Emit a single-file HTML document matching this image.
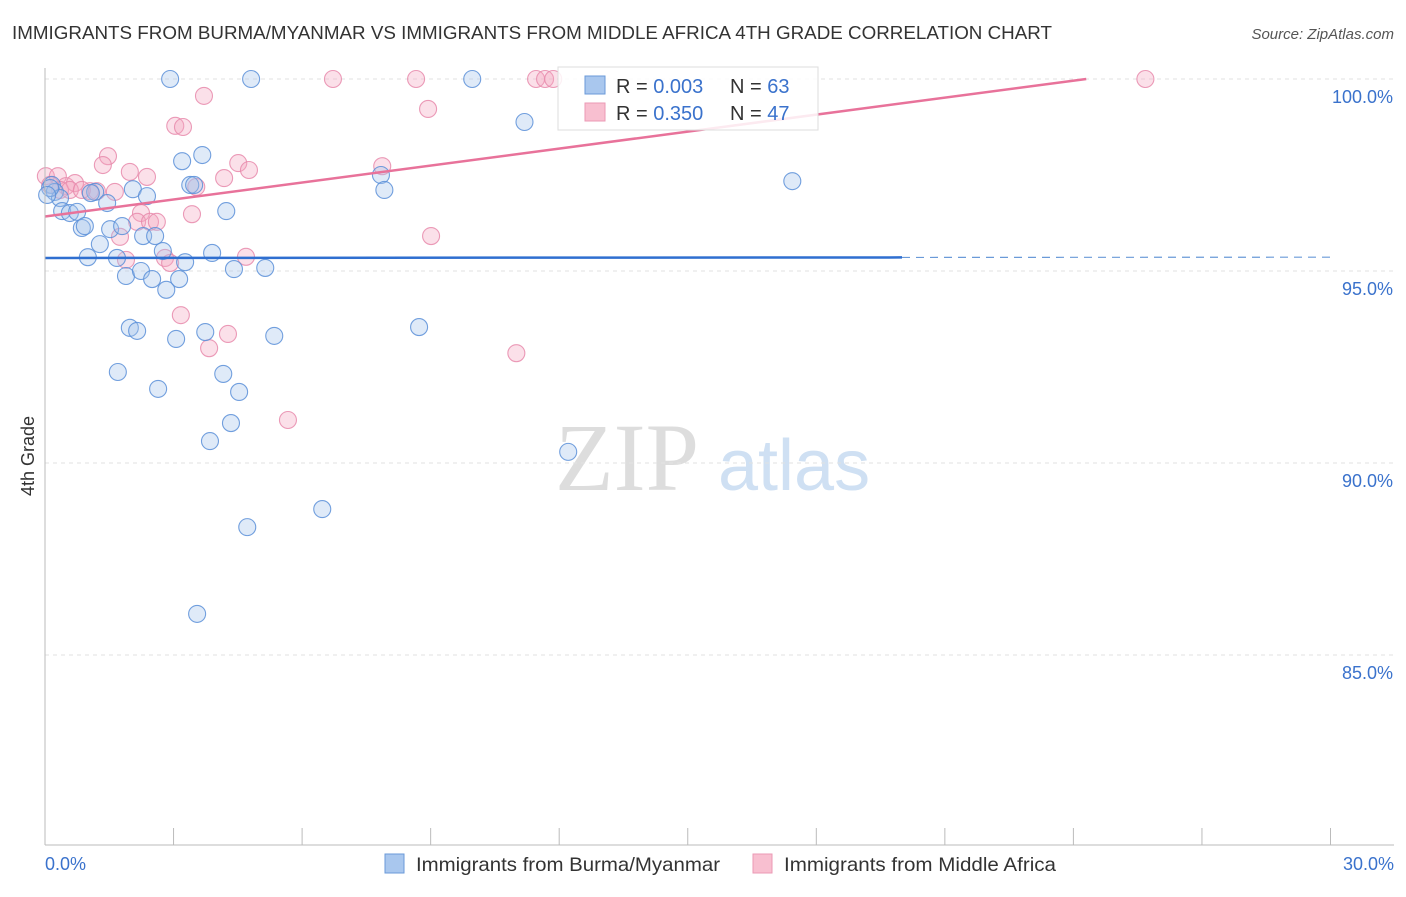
<!DOCTYPE html>
<html><head><meta charset="utf-8"><style>
body{margin:0;background:#fff;font-family:"Liberation Sans",sans-serif;}
</style></head><body>
<svg id="chart" width="1406" height="892" xmlns="http://www.w3.org/2000/svg">
<text x="12" y="39" font-size="18.5" fill="#333" textLength="1040" lengthAdjust="spacingAndGlyphs">IMMIGRANTS FROM BURMA/MYANMAR VS IMMIGRANTS FROM MIDDLE AFRICA 4TH GRADE CORRELATION CHART</text>
<text x="1394" y="39" font-size="15" fill="#555" font-style="italic" text-anchor="end">Source: ZipAtlas.com</text>
<text x="555" y="490" font-size="96" fill="#ddd" font-family="Liberation Serif,serif">ZIP</text>
<text x="718" y="490" font-size="72" fill="#cfe0f3">atlas</text>
<text x="34" y="456" font-size="18" fill="#333" text-anchor="middle" transform="rotate(-90 34 456)">4th Grade</text>
<g id="grid"></g><g id="pts"></g><g id="lines"></g>
<line x1="45" y1="68" x2="45" y2="845" stroke="#bbb"/>
<line x1="45" y1="845" x2="1394" y2="845" stroke="#bbb"/>
<text x="45" y="870" font-size="18" fill="#3a72cc">0.0%</text>
<text x="1394" y="870" font-size="18" fill="#3a72cc" text-anchor="end">30.0%</text>
<g>
<rect x="558" y="67" width="260" height="63" fill="#fff" fill-opacity="0.85" stroke="#ddd"/>
<rect x="585" y="76" width="20" height="18" fill="#a9c7ee" stroke="#6a9ad8"/>
<rect x="585" y="103" width="20" height="18" fill="#f8bfd0" stroke="#eb9ab5"/>
<text x="616" y="93" font-size="20" fill="#333">R = <tspan fill="#3a72cc">0.003</tspan></text>
<text x="730" y="93" font-size="20" fill="#333">N = <tspan fill="#3a72cc">63</tspan></text>
<text x="616" y="120" font-size="20" fill="#333">R = <tspan fill="#3a72cc">0.350</tspan></text>
<text x="730" y="120" font-size="20" fill="#333">N = <tspan fill="#3a72cc">47</tspan></text>
</g>
<g>
<rect x="385" y="854" width="19" height="19" fill="#a9c7ee" stroke="#6a9ad8"/>
<text x="416" y="871" font-size="19.5" fill="#333" textLength="304" lengthAdjust="spacingAndGlyphs">Immigrants from Burma/Myanmar</text></g>
<g>
<rect x="753" y="854" width="19" height="19" fill="#f8bfd0" stroke="#eb9ab5"/>
<text x="784" y="871" font-size="19.5" fill="#333" textLength="272" lengthAdjust="spacingAndGlyphs">Immigrants from Middle Africa</text></g>
</svg>
<script>
const yTicks=[100,95,90,85];
const xTicks=[0,3,6,9,12,15,18,21,24,27,30];
const blueX=[2.92,4.81,9.97,11.19,17.44,7.84,7.92,3.2,3.67,3.39,3.48,4.23,2.05,2.38,1.17,1.07,1.45,0.16,0.23,0.35,0.4,0.58,0.75,0.86,0.93,1.52,1.8,2.29,2.57,2.75,3.27,3.9,4.41,5.14,1.28,1.0,1.68,1.89,2.24,2.5,2.83,3.13,1.98,2.15,3.06,3.74,5.35,8.73,1.7,2.64,4.16,4.53,4.34,3.85,12.21,6.47,4.72,3.55,0.12,0.05];
const blueY=[100,100,100,98.88,97.34,97.5,97.11,97.86,98.02,97.24,97.24,96.56,97.13,96.95,97.06,97.03,96.77,97.24,97.06,96.9,96.56,96.51,96.54,96.12,96.17,96.09,96.17,95.91,95.91,95.52,95.23,95.47,95.05,95.08,95.7,95.36,95.34,94.87,95.0,94.79,94.51,94.79,93.52,93.44,93.23,93.41,93.31,93.54,92.37,91.93,92.32,91.85,91.04,90.57,90.29,88.8,88.33,86.07,97.16,96.98];
const pinkX=[6.72,8.66,11.46,11.67,11.86,25.68,3.71,8.94,3.04,3.22,1.47,1.35,1.98,2.38,4.51,4.76,4.18,3.53,7.87,0.02,0.3,0.49,0.7,1.05,1.63,0.35,0.58,2.24,3.43,2.15,2.45,2.61,1.75,9.01,2.8,2.92,4.69,1.89,3.17,4.27,3.83,11.0,5.67,1.21,0.86,0.12];
const pinkY=[100,100,100,100,100,100,99.56,99.22,98.78,98.75,97.99,97.76,97.58,97.45,97.81,97.63,97.42,97.19,97.73,97.47,97.47,97.21,97.29,97.08,97.06,97.11,97.11,96.51,96.48,96.28,96.28,96.28,95.89,95.91,95.34,95.21,95.37,95.29,93.85,93.36,92.99,92.86,91.12,97.08,97.11,97.24];
const blueFit=[95.34,95.36], pinkFit=[96.42,100];
const NS='http://www.w3.org/2000/svg';
const X=v=>45+v*42.85, Y=v=>79+(100-v)*38.4;
const grid=document.getElementById('grid'),pts=document.getElementById('pts'),lines=document.getElementById('lines');
function mk(tag,a,parent){const e=document.createElementNS(NS,tag);for(const k in a)e.setAttribute(k,a[k]);parent.appendChild(e);return e;}
yTicks.forEach(t=>{
 const l=mk('line',{x1:45,x2:1394,y1:Y(t),y2:Y(t),stroke:'#e2e2e2','stroke-dasharray':'4,4'},grid);
 
 
 const tx=mk('text',{x:1393,y:Y(t)+24,'font-size':18,fill:'#3a72cc','text-anchor':'end'},grid);
 tx.textContent=t.toFixed(1)+'%';
 
 
});
xTicks.forEach(t=>{
 const l=mk('line',{x1:X(t),x2:X(t),y1:828,y2:845,stroke:'#bbb'},grid);
 
 
});
function dots(xs,ys,fill,stroke,name){xs.forEach((x,i)=>{
 const c=mk('circle',{cx:X(x),cy:Y(ys[i]),r:8.5,fill:fill,'fill-opacity':0.35,stroke:stroke,'stroke-width':1.1,'stroke-opacity':0.85},pts);
 
 
});}
dots(pinkX,pinkY,'#f4a7c0','#e88aab','point-middle-africa');
dots(blueX,blueY,'#a4c4ec','#5a8fd8','point-burma');
let l=mk('line',{x1:X(0),y1:Y(blueFit[0]),x2:X(20),y2:Y(blueFit[0]+(blueFit[1]-blueFit[0])*20/30),stroke:'#2f6fd0','stroke-width':2.5},lines);


l=mk('line',{x1:X(20),y1:Y(blueFit[0]+(blueFit[1]-blueFit[0])*20/30),x2:X(30),y2:Y(blueFit[1]),stroke:'#6a9ad8','stroke-width':1.2,'stroke-dasharray':'8,6'},lines);


l=mk('line',{x1:X(0),y1:Y(pinkFit[0]),x2:X(24.3),y2:Y(pinkFit[1]),stroke:'#e8729a','stroke-width':2.5},lines);


</script>
</body></html>
